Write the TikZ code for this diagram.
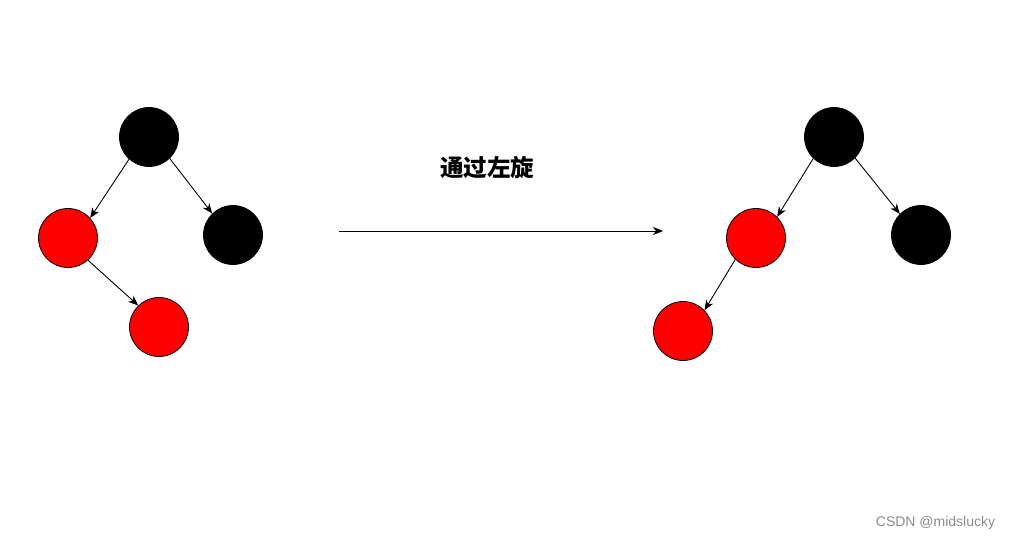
\documentclass[tikz,border=0pt]{standalone}
\usepackage{fontspec}
\setmainfont{Liberation Sans}
\newfontfamily\cjk{Noto Sans CJK SC}
\usetikzlibrary{arrows.meta}
\tikzset{
  rbnode/.style={circle, draw=black, line width=0.8pt, minimum size=59pt, inner sep=0pt},
  rednode/.style={rbnode, fill=red},
  blacknode/.style={rbnode, fill=black},
  edge/.style={draw=black, line width=0.9pt, -{Stealth[length=10pt,width=8pt,inset=3pt]}},
}
\begin{document}
\begin{tikzpicture}[x=1pt,y=-1pt]
\useasboundingbox (0,0) rectangle (1011,540);
% left tree
\node[blacknode] (a1) at (149,137) {};
\node[rednode] (b1) at (68,238) {};
\node[blacknode] (c1) at (233,235) {};
\node[rednode] (d1) at (159,327) {};
\draw[edge] (a1.228) -- (b1.42);
\draw[edge] (a1.314) -- (c1.134);
\draw[edge] (b1.312) -- (d1.134);
% arrow
\coordinate (s) at (339,231);
\coordinate (t) at (663,231);
\draw[edge] (s) -- (t);
\node[font=\cjk\bfseries\fontsize{23.5}{27}\selectfont] (lbl) at (487,168) {通过左旋};
% right tree
\node[blacknode] (a2) at (834,137) {};
\node[rednode] (b2) at (756,238) {};
\node[blacknode] (c2) at (921,235) {};
\node[rednode] (d2) at (683,331) {};
\draw[edge] (a2.226) -- (b2.45);
\draw[edge] (a2.315) -- (c2.135);
\draw[edge] (b2.226) -- (d2.44);
% watermark
\node[text=black!45, font=\fontsize{14}{16}\selectfont] (wm) at (935.5,523) {CSDN @midslucky};
\end{tikzpicture}
\end{document}
